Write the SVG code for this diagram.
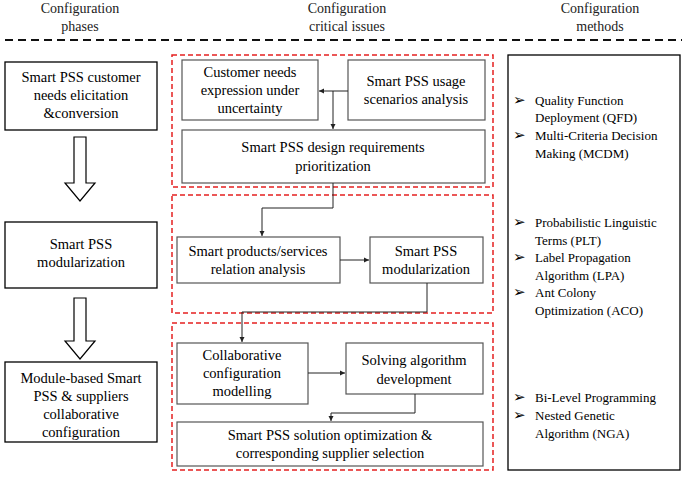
<svg xmlns="http://www.w3.org/2000/svg" width="685" height="477" viewBox="0 0 685 477" font-family="'Liberation Serif','Times New Roman',Tinos,'DejaVu Serif',serif">
<style>
text{font-family:'Liberation Serif','Times New Roman',Tinos,serif;fill:#000}
.n{font-size:14.5px;text-anchor:middle}
.h{font-size:14px;text-anchor:middle;fill:#222}
.m{font-size:13px}
.k{font-size:15px;font-family:'DejaVu Sans',sans-serif}
.b{fill:#fff;stroke:#000;stroke-width:1.3}
.g{fill:#fff;stroke:#555;stroke-width:1.2}
.r{fill:none;stroke:#e52020;stroke-width:1.5;stroke-dasharray:5,3}
.c{fill:none;stroke:#222;stroke-width:1}
</style>
<defs><marker id="a" markerWidth="6" markerHeight="6" refX="5" refY="3" orient="auto"><path d="M0,0.5L5,3L0,5.5z" fill="#222"/></marker></defs>
<rect width="685" height="477" fill="#fff"/>
<g id="headers">
<text class="h" x="80" y="13">Configuration</text><text class="h" x="80" y="31">phases</text>
<text class="h" x="347" y="13">Configuration</text><text class="h" x="347" y="31">critical issues</text>
<text class="h" x="600" y="13">Configuration</text><text class="h" x="600" y="31">methods</text>
<line x1="5" y1="40" x2="682" y2="40" stroke="#111" stroke-width="2.2" stroke-dasharray="8,5"/>
</g>
<g id="phase1"><rect class="b" x="5" y="62" width="152" height="68"/><text class="n" x="81" y="82">Smart PSS customer</text><text class="n" x="81" y="100">needs elicitation</text><text class="n" x="81" y="118">&amp;conversion</text></g>
<g id="phase2"><rect class="b" x="5" y="222" width="152" height="66"/><text class="n" x="81" y="249">Smart PSS</text><text class="n" x="81" y="267">modularization</text></g>
<g id="phase3"><rect class="b" x="5" y="362" width="152" height="80"/><text class="n" x="81" y="383">Module-based Smart</text><text class="n" x="81" y="401">PSS &amp; suppliers</text><text class="n" x="81" y="419">collaborative</text><text class="n" x="81" y="437">configuration</text></g>
<g id="bigarrows" fill="#fff" stroke="#000" stroke-width="1.2">
<path d="M74,137H86V183H95L80,201L65,183H74Z"/>
<path d="M74,298H86V341H95L80,359L65,341H74Z"/>
</g>
<g id="groups"><rect class="r" x="172" y="55" width="321" height="132"/><rect class="r" x="172" y="195" width="321" height="118"/><rect class="r" x="172" y="323" width="321" height="147"/></g>
<g id="n1"><rect class="g" x="182" y="60" width="136" height="60"/><text class="n" x="250" y="77">Customer needs</text><text class="n" x="250" y="95">expression under</text><text class="n" x="250" y="113">uncertainty</text></g>
<g id="n2"><rect class="g" x="348" y="60" width="137" height="60"/><text class="n" x="416" y="86">Smart PSS usage</text><text class="n" x="416" y="104">scenarios analysis</text></g>
<g id="n3"><rect class="g" x="182" y="130" width="303" height="53"/><text class="n" x="333" y="152">Smart PSS design requirements</text><text class="n" x="333" y="171">prioritization</text></g>
<g id="n4"><rect class="g" x="177" y="237" width="163" height="46"/><text class="n" x="258" y="256">Smart products/services</text><text class="n" x="258" y="274">relation analysis</text></g>
<g id="n5"><rect class="g" x="370" y="237" width="113" height="46"/><text class="n" x="426" y="256">Smart PSS</text><text class="n" x="426" y="274">modularization</text></g>
<g id="n6"><rect class="g" x="177" y="343" width="131" height="61"/><text class="n" x="242" y="360">Collaborative</text><text class="n" x="242" y="378">configuration</text><text class="n" x="242" y="396">modelling</text></g>
<g id="n7"><rect class="g" x="346" y="343" width="137" height="51"/><text class="n" x="414" y="365">Solving algorithm</text><text class="n" x="414" y="384">development</text></g>
<g id="n8"><rect class="g" x="177" y="422" width="306" height="44"/><text class="n" x="330" y="440">Smart PSS solution optimization &amp;</text><text class="n" x="330" y="458">corresponding supplier selection</text></g>
<g id="connectors">
<path class="c" d="M348,91H319" marker-end="url(#a)"/>
<path class="c" d="M333,91V129" marker-end="url(#a)"/>
<path class="c" d="M333,183V208H262V236" marker-end="url(#a)"/>
<path class="c" d="M340,260H369" marker-end="url(#a)"/>
<path class="c" d="M427,283V312H242V342" marker-end="url(#a)"/>
<path class="c" d="M308,373H345" marker-end="url(#a)"/>
<path class="c" d="M415,394V413H331V421" marker-end="url(#a)"/>
</g>
<g id="methods">
<rect class="b" x="508" y="55" width="172" height="415"/>
<g class="k">
<text x="513" y="105">➢</text><text x="513" y="140">➢</text><text x="513" y="227">➢</text><text x="513" y="262">➢</text><text x="513" y="297">➢</text><text x="513" y="402">➢</text><text x="513" y="420">➢</text>
</g>
<g class="m">
<text x="535" y="105">Quality Function</text><text x="535" y="122">Deployment (QFD)</text>
<text x="535" y="140">Multi-Criteria Decision</text><text x="535" y="158">Making (MCDM)</text>
<text x="535" y="227">Probabilistic Linguistic</text><text x="535" y="245">Terms (PLT)</text>
<text x="535" y="262">Label Propagation</text><text x="535" y="280">Algorithm (LPA)</text>
<text x="535" y="297">Ant Colony</text><text x="535" y="315">Optimization (ACO)</text>
<text x="535" y="402">Bi-Level Programming</text>
<text x="535" y="420">Nested Genetic</text><text x="535" y="438">Algorithm (NGA)</text>
</g>
</g>
</svg>
